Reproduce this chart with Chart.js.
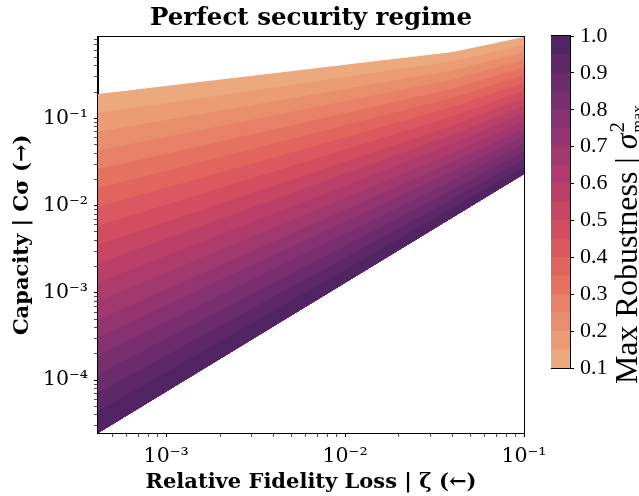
<!DOCTYPE html>
<html><head><meta charset="utf-8">
<script src="https://cdn.jsdelivr.net/npm/chart.js@4.4.0/dist/chart.umd.min.js"></script>
<style>
html,body{margin:0;padding:0;background:#fff;}
#wrap{position:relative;width:639px;height:496px;overflow:hidden;background:#fff;}
#main{position:absolute;left:0;top:0;}
#cbar{position:absolute;left:551px;top:0;}
</style></head><body>
<div id="wrap"><canvas id="main" width="639" height="496"></canvas><canvas id="cbar" width="88" height="496"></canvas></div>
<script>
// ---- data ----
// contour levels of Max Robustness sigma^2_max
const levels = [0.10,0.15,0.20,0.25,0.30,0.35,0.40,0.45,0.50,0.55,0.60,0.65,0.70,0.75,0.80,0.85,0.90,0.95,1.00];
// Relative Fidelity Loss (zeta) positions where each contour line was read
const fidelityLoss = [4.16e-4, 0.04, 0.1];
// Capacity of each contour line at those positions
const capacityAtLeft  = [0.190,0.1156,0.0703,0.0428,0.0261,0.01585,0.00964,0.00587,0.00357,0.00217,0.00132,0.000804,0.000489,0.000310,0.000191,0.000117,0.0000718,0.0000440,0.0000248];
const capacityAtKink  = [0.576,0.452,0.355,0.279,0.219,0.172,0.135,0.1057,0.0831,0.0652,0.0512,0.0402,0.0316,0.0247,0.0194,0.0152,0.0120,0.0094,0.00738];
const capacityAtRight = [0.855,0.700,0.573,0.469,0.383,0.314,0.256,0.209,0.171,0.140,0.115,0.0938,0.0767,0.0628,0.0514,0.0420,0.0344,0.0281,0.0230];
// axes
const xRange = [4.16e-4, 0.1];
const yRange = [2.48e-5, 0.863];
const xMajorTicks = [1e-3, 1e-2, 1e-1];
const yMajorTicks = [1e-4, 1e-3, 1e-2, 1e-1];
const cbarTicks = [0.1,0.2,0.3,0.4,0.5,0.6,0.7,0.8,0.9,1.0];

// ---- helpers ----
const flareStops = [[0,237,176,129],[1/7,233,141,107],[2/7,227,104,92],[3/7,209,74,97],[4/7,177,60,108],[5/7,143,51,113],[6/7,108,43,109],[1,75,35,98]];
function flare(t){
  t=Math.max(0,Math.min(1,t));
  for(let i=0;i<flareStops.length-1;i++){
    const a=flareStops[i],b=flareStops[i+1];
    if(t<=b[0]){const f=(t-a[0])/(b[0]-a[0]);
      return 'rgb('+[1,2,3].map(j=>Math.round(a[j]+(b[j]-a[j])*f)).join(',')+')';}
  }
  const l=flareStops[flareStops.length-1];return 'rgb('+l[1]+','+l[2]+','+l[3]+')';
}
const nBands = levels.length-1;
function bandColor(k){const mid=(levels[k]+levels[k+1])/2;return flare((mid-levels[0])/(levels[nBands]-levels[0]));}
function isPow10(v){const l=Math.log10(v);return Math.abs(l-Math.round(l))<1e-9;}
const SUP={'-':'⁻','0':'⁰','1':'¹','2':'²','3':'³','4':'⁴','5':'⁵','6':'⁶','7':'⁷','8':'⁸','9':'⁹'};
function pow10Label(v){const e=String(Math.round(Math.log10(v)));return '10'+e.split('').map(c=>SUP[c]).join('');}
function logTicks(lo,hi){const out=[];for(let e=Math.floor(Math.log10(lo));e<=Math.ceil(Math.log10(hi));e++){for(let m=1;m<10;m++){const v=m*Math.pow(10,e);if(v>=lo*0.9999&&v<=hi*1.0001)out.push(v);}}return out;}
const xTickValues = logTicks(xRange[0],xRange[1]);
const yTickValues = logTicks(yRange[0],yRange[1]);
const capAt = [capacityAtLeft, capacityAtKink, capacityAtRight];

const frame = {id:'frame',afterDraw(c){const a=c.chartArea,x=c.ctx;x.save();x.strokeStyle='#000';x.lineWidth=1;
  x.strokeRect(Math.round(a.left)-0.5,Math.round(a.top)-0.5,Math.round(a.right-a.left)+1,Math.round(a.bottom-a.top)+1);x.restore();}};

const datasets = levels.map((lv,k)=>({
  label:'σ²max = '+lv.toFixed(2),
  data: fidelityLoss.map((x,i)=>({x:x,y:capAt[i][k]})),
  borderWidth:0, borderColor:'rgba(0,0,0,0)', pointRadius:0, pointHoverRadius:0, tension:0,
  backgroundColor: k<nBands ? bandColor(k) : 'rgba(0,0,0,0)',
  fill: k<nBands ? nBands : false,
  order: nBands-k
}));

const logTickFont = {family:'DejaVu Serif', size:20.5};
const cbTickFont = {family:'Liberation Serif', size:22};
new Chart(document.getElementById('main'),{
  type:'line',
  data:{datasets},
  options:{
    responsive:false, animation:false, devicePixelRatio:1,
    layout:{padding:{left:0,right:115,top:0,bottom:0}},
    plugins:{
      legend:{display:false}, tooltip:{enabled:false},
      title:{display:true,text:'Perfect security regime',fullSize:false,color:'#000',
        font:{family:'DejaVu Serif',weight:'bold',size:24.5,lineHeight:1.2},padding:{top:4,bottom:3.3}}
    },
    scales:{
      x:{type:'logarithmic',position:'bottom',min:xRange[0],max:xRange[1],
        afterBuildTicks:s=>{s.ticks=xTickValues.map(v=>({value:v}));},
        afterFit:s=>{s.height=63;},
        ticks:{autoSkip:false,maxRotation:0,minRotation:0,padding:7,color:'#000',font:logTickFont,
          callback:v=>isPow10(v)?pow10Label(v):''},
        grid:{display:true,drawOnChartArea:false,drawTicks:true,tickLength:4,tickColor:'#000',
          tickWidth:c=>(c.tick&&isPow10(c.tick.value))?1:0.7},
        border:{display:true,color:'#000',width:1},
        title:{display:true,text:'Relative Fidelity Loss | ζ (←)',color:'#000',
          font:{family:'DejaVu Serif',weight:'bold',size:21},padding:{top:0,bottom:1}}
      },
      y:{type:'logarithmic',position:'left',min:yRange[0],max:yRange[1],
        afterBuildTicks:s=>{s.ticks=yTickValues.map(v=>({value:v}));},
        afterFit:s=>{s.width=98;},
        ticks:{autoSkip:false,padding:6,color:'#000',font:logTickFont,
          callback:v=>isPow10(v)?pow10Label(v):''},
        grid:{display:true,drawOnChartArea:false,drawTicks:true,tickLength:4,tickColor:'#000',
          tickWidth:c=>(c.tick&&isPow10(c.tick.value))?1:0.7},
        border:{display:true,color:'#000',width:1},
        title:{display:true,text:'Capacity | Cσ (→)',color:'#000',
          font:{family:'DejaVu Serif',weight:'bold',size:21},padding:{top:10,bottom:0}}
      }
    }
  },
  plugins:[frame]
});

// ---- colorbar ----
const cbLabel = {id:'cbLabel',afterDraw(c){
  const x=c.ctx; x.save(); x.fillStyle='#000'; x.textBaseline='alphabetic';
  const segs=[{t:'Max Robustness | ',f:'32px "Liberation Serif"'},{t:'σ',f:'italic 32px "Liberation Serif"'}];
  let total=0; segs.forEach(s=>{x.font=s.f;s.w=x.measureText(s.t).width;total+=s.w;});
  x.font='21px "Liberation Serif"'; const wSup=x.measureText('2').width;
  x.font='16px "Liberation Serif"'; const wSub=x.measureText('max').width;
  total+=Math.max(wSup,wSub)+2;
  const cx=86, cy=244;
  x.translate(cx,cy); x.rotate(-Math.PI/2);
  let px=-total/2;
  segs.forEach(s=>{x.font=s.f;x.fillText(s.t,px,0);px+=s.w;});
  x.font='21px "Liberation Serif"'; x.fillText('2',px+1,-13);
  x.font='16px "Liberation Serif"'; x.fillText('max',px+1,6);
  x.restore();
}};
new Chart(document.getElementById('cbar'),{
  type:'bar',
  data:{labels:[''],datasets:levels.slice(1).map((hi,k)=>({
    label:levels[k].toFixed(2)+'–'+hi.toFixed(2),
    data:[[levels[0],hi]],backgroundColor:bandColor(k),borderWidth:0,
    grouped:false,barPercentage:1,categoryPercentage:1}))},
  options:{
    responsive:false,animation:false,devicePixelRatio:1,
    layout:{padding:{top:36,bottom:128,left:0,right:0}},
    plugins:{legend:{display:false},tooltip:{enabled:false}},
    scales:{
      x:{display:false},
      y:{position:'right',min:levels[0],max:levels[nBands],
        afterBuildTicks:s=>{s.ticks=cbarTicks.map(v=>({value:v}));},
        afterFit:s=>{s.width=69;},
        ticks:{autoSkip:false,padding:6,color:'#000',font:cbTickFont,callback:v=>Number(v).toFixed(1)},
        grid:{display:true,drawOnChartArea:false,drawTicks:true,tickLength:4,tickColor:'#000'},
        border:{display:true,color:'#000',width:1}
      }
    }
  },
  plugins:[frame,cbLabel]
});
</script>
</body></html>
